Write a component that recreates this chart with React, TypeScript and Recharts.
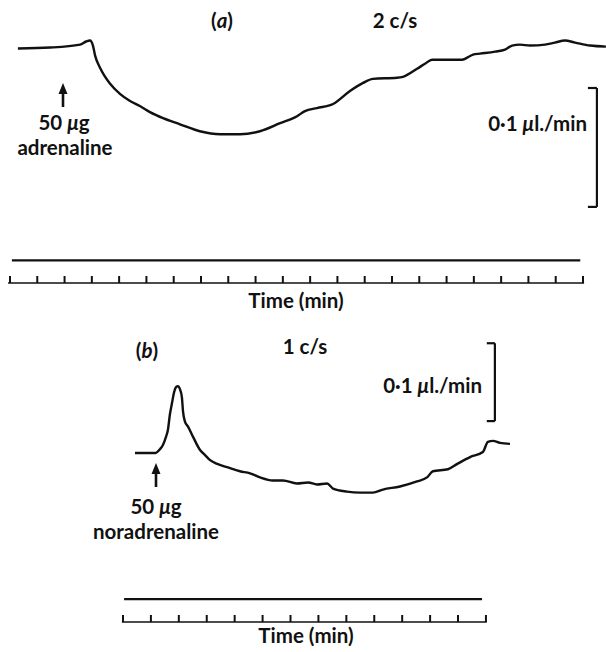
import { LineChart, Line, XAxis, YAxis, ReferenceLine } from "recharts"

// (a) 50 ug adrenaline, time in min, change of flow in nl/min
const timeA = [
  0.29, 1.47, 2.57, 2.79, 2.93, 3.04, 3.12, 3.3, 3.67, 4.03, 4.4, 4.76, 5.13, 5.61, 6.23, 6.96,
  7.7, 8.43, 9.16, 9.9, 10.52, 10.81, 11.25, 11.84, 12.46, 12.94, 13.3, 14.18, 14.4, 14.92,
  15.21, 15.47, 15.87, 16.57, 16.97, 17.23, 17.78, 18.14, 18.4, 18.69, 19.06, 19.61, 19.97,
  20.34, 20.71, 21.26, 21.84,
]
const flowA = [
  -0.8, 0, 2.5, 5.1, 5.9, 1.7, -6.8, -17.0, -30.5, -39.0, -45.0, -49.2, -54.3, -59.4, -64.5,
  -70.4, -72.9, -72.9, -70.4, -63.6, -57.7, -53.4, -50.9, -47.5, -36.5, -29.7, -26.3, -25.4,
  -24.6, -17.8, -13.6, -10.2, -10.2, -10.2, -5.9, -5.1, -3.4, -1.7, 1.7, 2.5, 1.7, 2.5, 4.2,
  5.9, 4.2, 1.7, 0.8,
]

// (b) 50 ug noradrenaline
const timeB = [
  0.43, 0.97, 1.15, 1.33, 1.43, 1.54, 1.61, 1.68, 1.76, 1.83, 1.9, 1.97, 2.04, 2.11, 2.15, 2.22,
  2.33, 2.51, 2.76, 2.94, 3.12, 3.4, 3.73, 4.19, 4.55, 4.91, 5.37, 5.73, 6.23, 6.63, 6.95, 7.31,
  7.52, 8.02, 8.49, 8.95, 9.31, 9.92, 10.53, 10.89, 11.1, 11.64, 11.96, 12.43, 12.89, 13.07,
  13.25, 13.5, 13.86,
]
const flowB = [
  0, 0, 0, 5.2, 10.4, 20.8, 29.9, 49.5, 65.1, 78.1, 84.6, 85.9, 82.0, 71.6, 53.4, 40.4, 33.9,
  20.8, 3.9, -2.6, -9.1, -14.3, -18.2, -23.4, -26.0, -31.3, -35.2, -35.2, -39.1, -37.8, -40.4,
  -39.1, -45.6, -49.5, -50.8, -50.8, -46.9, -43.0, -36.5, -31.3, -23.4, -20.8, -14.3, -5.2, 1.3,
  14.3, 15.6, 13.0, 11.7,
]

const ticksA = [0, 1, 2, 3, 4, 5, 6, 7, 8, 9, 10, 11, 12, 13, 14, 15, 16, 17, 18, 19, 20, 21]
const ticksB = [0, 1, 2, 3, 4, 5, 6, 7, 8, 9, 10, 11, 12, 13]

const dataA = timeA.map((t, i) => ({ t, flow: flowA[i] }))
const dataB = timeB.map((t, i) => ({ t, flow: flowB[i] }))

const INK = "#111"
const FONT = "Lato, 'Open Sans', sans-serif"

function UpTick(props: any) {
  const { x, y } = props
  return <line x1={x} y1={y} x2={x} y2={y - 7} stroke={INK} strokeWidth={2} />
}

function Arrow({ x, tip, tail }: { x: number; tip: number; tail: number }) {
  return (
    <g>
      <line x1={x} y1={tip + 8} x2={x} y2={tail} stroke={INK} strokeWidth={2.6} />
      <path d={`M${x} ${tip} L${x - 4.5} ${tip + 11} L${x + 4.5} ${tip + 11} Z`} fill={INK} />
    </g>
  )
}

function Caption({ x, y, children, anchor = "middle" }: any) {
  return (
    <text x={x} y={y} textAnchor={anchor} fontFamily={FONT} fontSize={20.5} fontWeight={700} fill={INK}>
      {children}
    </text>
  )
}

const Mu = () => <tspan fontStyle="italic">μ</tspan>

// scale bar: bracket with serifs pointing left
function scaleBar(x: number, serif: number, lo: number, hi: number) {
  const p = { stroke: INK, strokeWidth: 2.2, ifOverflow: "visible" as const }
  return [
    <ReferenceLine key="v" segment={[{ x, y: lo }, { x, y: hi }]} {...p} />,
    <ReferenceLine key="t" segment={[{ x: x - serif, y: hi }, { x, y: hi }]} {...p} />,
    <ReferenceLine key="b" segment={[{ x: x - serif, y: lo }, { x, y: lo }]} {...p} />,
  ]
}

export default function App() {
  return (
    <div style={{ position: "absolute", left: 0, top: 0, width: 606, height: 652, background: "#fff" }}>
      <div style={{ position: "absolute", left: 0, top: 0 }}>
        <LineChart width={606} height={313} data={dataA} margin={{ top: 0, right: 0, bottom: 0, left: 0 }}>
          <XAxis
            dataKey="t"
            type="number"
            domain={[-0.366, 21.843]}
            ticks={ticksA}
            interval={0}
            allowDataOverflow
            axisLine={false}
            tickLine={false}
            tickSize={0}
            tickMargin={0}
            tick={<UpTick />}
            height={30}
          />
          <YAxis hide type="number" domain={[-198, 40]} allowDataOverflow />
          <ReferenceLine segment={[{ x: 0.07, y: -179 }, { x: 20.9, y: -179 }]} stroke={INK} strokeWidth={2.2} ifOverflow="visible" />
          <ReferenceLine segment={[{ x: -0.07, y: -198 }, { x: 21.04, y: -198 }]} stroke={INK} strokeWidth={1.6} ifOverflow="visible" />
          {scaleBar(21.51, 0.33, -134, -34)}
          <Line dataKey="flow" type="monotone" stroke={INK} strokeWidth={2.4} dot={false} activeDot={false} isAnimationActive={false} />
          <Caption x={222} y={28}>(<tspan fontStyle="italic">a</tspan>)</Caption>
          <Caption x={395} y={28}>2 c/s</Caption>
          <Arrow x={63} tip={83} tail={107} />
          <Caption x={64} y={130}>50 <Mu />g</Caption>
          <Caption x={65} y={155}>adrenaline</Caption>
          <Caption x={587} y={131} anchor="end">0·1 <Mu />l./min</Caption>
          <Caption x={296} y={308}>Time (min)</Caption>
        </LineChart>
      </div>
      <div style={{ position: "absolute", left: 0, top: 330 }}>
        <LineChart width={606} height={322} data={dataB} margin={{ top: 0, right: 0, bottom: 0, left: 0 }}>
          <XAxis
            dataKey="t"
            type="number"
            domain={[-4.405, 17.3]}
            ticks={ticksB}
            interval={0}
            allowDataOverflow
            axisLine={false}
            tickLine={false}
            tickSize={0}
            tickMargin={0}
            tick={<UpTick />}
            height={30}
          />
          <YAxis hide type="number" domain={[-217, 158]} allowDataOverflow />
          <ReferenceLine segment={[{ x: 0.04, y: -187.5 }, { x: 12.86, y: -187.5 }]} stroke={INK} strokeWidth={2.2} ifOverflow="visible" />
          <ReferenceLine segment={[{ x: -0.04, y: -217 }, { x: 13.03, y: -217 }]} stroke={INK} strokeWidth={1.6} ifOverflow="visible" />
          {scaleBar(13.32, 0.29, 41, 141)}
          <Line dataKey="flow" type="monotone" stroke={INK} strokeWidth={2.4} dot={false} activeDot={false} isAnimationActive={false} />
          <Caption x={147} y={28}>(<tspan fontStyle="italic">b</tspan>)</Caption>
          <Caption x={305} y={24}>1 c/s</Caption>
          <Caption x={482} y={63} anchor="end">0·1 <Mu />l./min</Caption>
          <Arrow x={156} tip={133} tail={157} />
          <Caption x={156} y={184}>50 <Mu />g</Caption>
          <Caption x={156} y={209}>noradrenaline</Caption>
          <Caption x={306} y={313}>Time (min)</Caption>
        </LineChart>
      </div>
    </div>
  )
}
